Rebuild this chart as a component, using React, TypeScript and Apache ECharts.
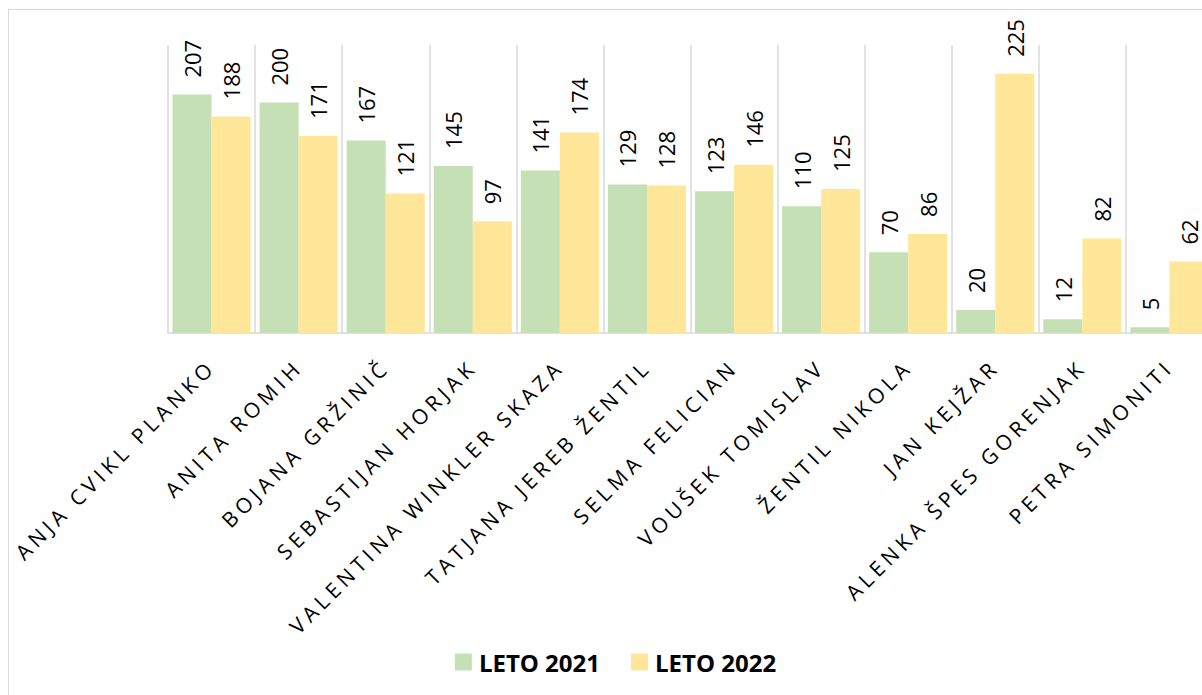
import React, { useEffect, useRef } from "react";
import * as echarts from "echarts";

const categories = [
  "ANJA CVIKL PLANKO",
  "ANITA ROMIH",
  "BOJANA GRŽINIČ",
  "SEBASTIJAN HORJAK",
  "VALENTINA WINKLER SKAZA",
  "TATJANA JEREB ŽENTIL",
  "SELMA FELICIAN",
  "VOUŠEK TOMISLAV",
  "ŽENTIL NIKOLA",
  "JAN KEJŽAR",
  "ALENKA ŠPES GORENJAK",
  "PETRA SIMONITI",
];
const leto2021 = [207, 200, 167, 145, 141, 129, 123, 110, 70, 20, 12, 5];
const leto2022 = [188, 171, 121, 97, 174, 128, 146, 125, 86, 225, 82, 62];
const seriesNames = ["LETO 2021", "LETO 2022"];

const FONT = "'Open Sans', 'Noto Sans', sans-serif";

export default function App() {
  const ref = useRef<HTMLDivElement>(null);
  useEffect(() => {
    if (!ref.current) return;
    const chart = echarts.init(ref.current, undefined, { renderer: "svg" });
    const catSet = new Set(categories);
    const spaceLabels = () => {
      const svg = ref.current?.querySelector("svg");
      if (!svg) return;
      svg.querySelectorAll("text").forEach((t) => {
        if (catSet.has((t.textContent || "").trim())) {
          t.setAttribute("letter-spacing", "4.5");
        }
      });
    };
    const label = {
      show: true,
      position: "top",
      rotate: 90,
      align: "left",
      verticalAlign: "middle",
      distance: 17,
      fontSize: 22,
      color: "#000",
      fontFamily: FONT,
    };
    chart.setOption({
      animation: false,
      backgroundColor: "#fff",
      grid: { left: 159, right: 9, top: 35, height: 288 },
      legend: {
        data: seriesNames,
        left: "center",
        top: 635,
        itemWidth: 17,
        itemHeight: 17,
        itemGap: 31,
        icon: "rect",
        textStyle: {
          fontSize: 24,
          fontWeight: "bold",
          color: "#000",
          fontFamily: FONT,
          padding: [0, 0, 0, 2],
        },
      },
      xAxis: {
        type: "category",
        data: categories,
        axisLine: { lineStyle: { color: "#d9d9d9", width: 1.5 } },
        axisTick: { show: false },
        splitLine: { show: true, lineStyle: { color: "#d9d9d9", width: 1.5 } },
        axisLabel: {
          interval: 0,
          rotate: 45,
          margin: 30,
          fontSize: 21,
          color: "#000",
          fontFamily: FONT,
        },
      },
      yAxis: {
        type: "value",
        min: 0,
        max: 250,
        show: false,
        splitLine: { show: false },
      },
      series: [
        {
          name: seriesNames[0],
          type: "bar",
          data: leto2021,
          barGap: "0%",
          barCategoryGap: "10.3%",
          itemStyle: { color: "#C5E0B4" },
          label,
        },
        {
          name: seriesNames[1],
          type: "bar",
          data: leto2022,
          barGap: "0%",
          barCategoryGap: "10.3%",
          itemStyle: { color: "#FFE699" },
          label,
        },
      ],
    });
    spaceLabels();
    chart.on("finished", spaceLabels);
    return () => {
      chart.dispose();
    };
  }, []);

  return (
    <div
      style={{
        position: "fixed",
        left: 0,
        top: 0,
        width: 1202,
        height: 695,
        overflow: "hidden",
        background: "#fff",
      }}
    >
      <div
        style={{
          position: "absolute",
          left: 8,
          top: 9,
          width: 1400,
          height: 900,
          borderLeft: "1.5px solid #d9d9d9",
          borderTop: "1.5px solid #d9d9d9",
        }}
      />
      <div
        ref={ref}
        style={{ position: "absolute", left: 9, top: 10, width: 1213, height: 700 }}
      />
    </div>
  );
}
